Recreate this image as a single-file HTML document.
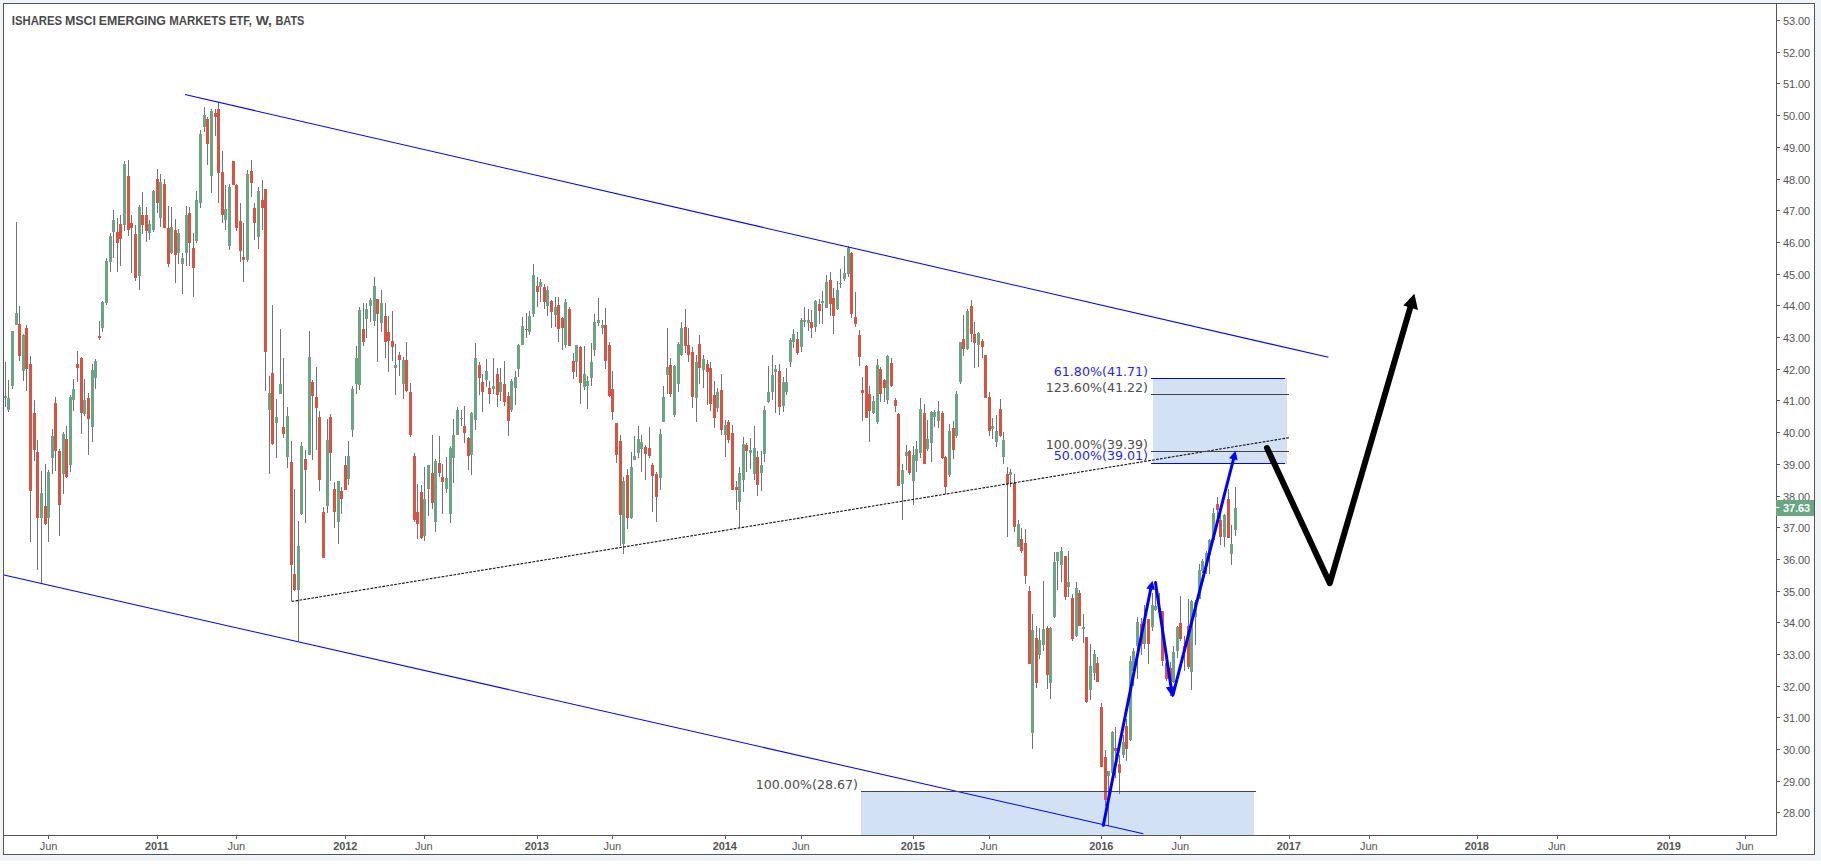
<!DOCTYPE html>
<html><head><meta charset="utf-8"><title>ISHARES MSCI EMERGING MARKETS ETF, W, BATS</title>
<style>
html,body{margin:0;padding:0;background:#fff;}
body{width:1821px;height:866px;overflow:hidden;position:relative;}
svg{position:absolute;left:0;top:0;display:block;}
.ax{font-family:"Liberation Sans",sans-serif;font-size:11px;fill:#555;letter-spacing:-0.12px;}
.axb{font-family:"Liberation Sans",sans-serif;font-size:11px;fill:#555;font-weight:bold;letter-spacing:-0.12px;}
.ttl{font-family:"Liberation Sans",sans-serif;font-size:13px;font-weight:bold;fill:#4a4a4a;}
.fib{font-family:"DejaVu Sans",sans-serif;font-size:12.65px;fill:#4d4d4d;}
.fibb{font-family:"DejaVu Sans",sans-serif;font-size:12.65px;fill:#1f1fff;}
</style></head><body>
<svg width="1821" height="866" viewBox="0 0 1821 866">
<rect x="0" y="0" width="1821" height="861" fill="#f0f4f7"/>
<rect x="3.5" y="3.5" width="1811" height="851" fill="#fff" stroke="#555" stroke-width="1"/>

<rect x="1153" y="378" width="134" height="86" fill="#d2e1f4"/>
<rect x="861" y="791" width="393" height="44" fill="#d2e1f4"/>
<g id="candles">
<path d="M5.5 362V407M8.5 380V412M12.5 331V389M16.5 222V325M19.5 306V361M23.5 334V381M26.5 325V391M30.5 356V542M34.5 400V461M37.5 440V570M41.5 471V584M45.5 464V525M48.5 470V542M52.5 429V474M55.5 397V471M59.5 449V536M63.5 432V494M66.5 426V478M70.5 395V472M73.5 379V411M77.5 351V382M81.5 357V434M84.5 379V416M88.5 393V455M92.5 364V442M95.5 359V389M99.5 321V340M102.5 301V332M106.5 258V305M110.5 233V272M113.5 210V258M117.5 218V272M120.5 215V266M124.5 161V231M128.5 160V236M131.5 215V273M135.5 225V281M139.5 205V290M142.5 192V234M146.5 207V242M149.5 220V240M153.5 190V232M157.5 169V213M160.5 174V227M164.5 179V228M168.5 206V267M171.5 207V254M175.5 219V283M178.5 229V264M182.5 253V294M186.5 206V266M189.5 207V266M193.5 233V297M196.5 191V243M200.5 130V208M204.5 107V132M207.5 117V165M211.5 109V193M215.5 109V136M218.5 102V203M222.5 151V223M225.5 185V230M229.5 184V250M233.5 161V185M236.5 184V231M240.5 203V262M243.5 223V282M247.5 170V262M251.5 160V197M254.5 203V240M258.5 187V249M262.5 180V230M265.5 189V391M269.5 376V474M272.5 305V445M276.5 399V458M280.5 329V394M283.5 358V438M287.5 407V468M291.5 441V601M294.5 489V591M298.5 521V641M301.5 442V515M305.5 450V523M309.5 331V455M312.5 380V460M316.5 367V450M319.5 411V491M323.5 507V558M327.5 419V513M330.5 414V481M334.5 482V528M338.5 481V544M341.5 487V514M345.5 456V490M348.5 441V485M352.5 386V437M356.5 346V394M359.5 307V390M363.5 303V346M366.5 303V338M370.5 298V322M374.5 277V326M377.5 299V362M381.5 290V332M385.5 303V358M388.5 316V372M392.5 311V361M395.5 344V395M399.5 352V376M403.5 357V399M406.5 342V392M410.5 383V437M414.5 453V522M417.5 484V539M421.5 485V539M424.5 467V541M428.5 465V516M432.5 435V509M435.5 459V532M439.5 436V477M442.5 464V514M446.5 457V493M450.5 446V523M453.5 419V483M457.5 407V435M461.5 410V426M464.5 406V443M468.5 437V470M471.5 412V475M475.5 343V430M479.5 362V395M482.5 374V412M486.5 359V387M489.5 381V404M493.5 358V394M497.5 368V407M500.5 368V401M504.5 361V406M508.5 392V436M511.5 379V412M515.5 371V405M518.5 344V377M522.5 317V345M526.5 313V338M529.5 311V335M533.5 264V317M537.5 277V307M540.5 279V302M544.5 284V309M547.5 286V316M551.5 300V328M555.5 297V327M558.5 297V342M562.5 317V350M565.5 299V348M569.5 307V346M573.5 353V379M576.5 345V377M580.5 346V404M584.5 346V390M587.5 376V409M591.5 343V386M594.5 314V356M598.5 298V326M602.5 320V334M605.5 308V369M609.5 342V397M612.5 371V420M616.5 423V463M620.5 435V546M623.5 477V554M627.5 469V529M631.5 452V519M634.5 436V460M638.5 426V458M641.5 435V472M645.5 445V480M649.5 427V458M652.5 463V512M656.5 472V522M660.5 429V490M663.5 386V422M667.5 328V394M670.5 358V397M674.5 365V417M678.5 342V392M681.5 322V356M685.5 309V353M688.5 328V362M692.5 347V408M696.5 355V422M699.5 335V384M703.5 355V388M707.5 360V405M710.5 362V411M714.5 381V428M717.5 388V412M721.5 374V435M725.5 420V457M728.5 420V443M732.5 425V490M736.5 481V510M739.5 467V528M743.5 437V492M746.5 443V472M750.5 438V469M754.5 426V480M757.5 451V496M761.5 451V491M764.5 406V462M768.5 366V403M772.5 355V400M775.5 365V413M779.5 364V415M783.5 377V412M786.5 368V395M790.5 338V367M793.5 329V348M797.5 332V355M801.5 318V352M804.5 307V327M808.5 309V331M811.5 310V338M815.5 300V332M819.5 299V324M822.5 291V324M826.5 275V308M830.5 272V316M833.5 288V334M837.5 281V310M840.5 269V288M844.5 256V281M848.5 246V277M851.5 252V318M855.5 292V327M859.5 330V366M862.5 377V421M866.5 365V418M869.5 386V442M873.5 396V414M877.5 359V424M880.5 367V402M884.5 379V402M887.5 355V404M891.5 358V387M895.5 398V412M898.5 413V486M902.5 464V520M906.5 445V470M909.5 450V475M913.5 446V505M916.5 441V472M920.5 398V458M924.5 404V464M927.5 420V451M931.5 411V462M934.5 410V427M938.5 401V428M942.5 411V459M945.5 456V494M949.5 424V477M953.5 421V459M956.5 391V438M960.5 342V384M963.5 315V356M967.5 309V350M971.5 300V342M974.5 322V368M978.5 332V367M982.5 339V358M985.5 355V398M989.5 392V436M992.5 418V439M996.5 415V447M1000.5 399V437M1003.5 432V464M1007.5 467V537M1010.5 469V487M1014.5 474V532M1018.5 520V547M1021.5 528V553M1025.5 529V584M1029.5 586V664M1032.5 614V749M1036.5 626V688M1039.5 628V659M1043.5 581V651M1047.5 626V689M1050.5 627V699M1054.5 552V618M1057.5 552V590M1061.5 547V582M1065.5 556V600M1068.5 551V597M1072.5 594V641M1076.5 582V637M1079.5 590V626M1083.5 614V643M1086.5 637V703M1090.5 644V700M1094.5 650V680M1097.5 657V682M1101.5 703V767M1105.5 750V806M1108.5 771V826M1112.5 731V774M1115.5 727V778M1119.5 755V794M1123.5 735V758M1126.5 719V761M1130.5 656V741M1133.5 648V686M1137.5 617V679M1141.5 618V655M1144.5 605V649M1148.5 619V664M1152.5 593V631M1155.5 590V611M1159.5 593V615M1162.5 611V666M1166.5 660V681M1170.5 662V696M1173.5 646V683M1177.5 626V658M1180.5 596V641M1184.5 636V671M1188.5 599V669M1191.5 600V690M1195.5 600V645M1199.5 564V599M1202.5 559V573M1206.5 551V574M1209.5 539V574M1213.5 508V542M1217.5 497V518M1220.5 515V545M1224.5 514V547M1228.5 489V538M1231.5 525V565M1235.5 487V536" stroke="#737373" stroke-width="1" fill="none" shape-rendering="crispEdges"/>
<path d="M4 396h3V398h-3zM7 398h3V410h-3zM11 331h3V386h-3zM15 313h3V325h-3zM22 335h3V371h-3zM40 493h3V518h-3zM47 472h3V518h-3zM51 436h3V458h-3zM62 434h3V474h-3zM69 397h3V465h-3zM72 389h3V400h-3zM83 400h3V414h-3zM91 370h3V427h-3zM94 361h3V378h-3zM101 302h3V328h-3zM105 261h3V303h-3zM109 236h3V262h-3zM112 220h3V232h-3zM123 164h3V225h-3zM138 207h3V276h-3zM148 224h3V233h-3zM152 191h3V230h-3zM159 182h3V218h-3zM170 227h3V253h-3zM177 233h3V253h-3zM181 258h3V264h-3zM185 215h3V253h-3zM195 200h3V241h-3zM199 134h3V203h-3zM203 115h3V127h-3zM210 111h3V176h-3zM224 209h3V220h-3zM228 187h3V246h-3zM246 174h3V260h-3zM257 191h3V237h-3zM268 393h3V410h-3zM275 417h3V423h-3zM279 384h3V394h-3zM286 416h3V457h-3zM297 546h3V590h-3zM300 446h3V514h-3zM308 357h3V455h-3zM326 440h3V506h-3zM337 481h3V522h-3zM347 456h3V479h-3zM351 389h3V430h-3zM355 358h3V384h-3zM358 310h3V385h-3zM365 309h3V319h-3zM369 300h3V306h-3zM373 286h3V321h-3zM380 303h3V323h-3zM394 365h3V368h-3zM402 360h3V384h-3zM423 499h3V536h-3zM427 465h3V489h-3zM434 461h3V522h-3zM445 478h3V489h-3zM449 448h3V514h-3zM452 435h3V458h-3zM456 410h3V435h-3zM460 418h3V419h-3zM470 413h3V455h-3zM474 358h3V420h-3zM485 371h3V380h-3zM492 386h3V389h-3zM499 382h3V392h-3zM510 381h3V410h-3zM514 377h3V388h-3zM517 345h3V369h-3zM521 326h3V345h-3zM528 316h3V332h-3zM532 275h3V314h-3zM539 282h3V287h-3zM546 290h3V306h-3zM554 307h3V315h-3zM564 302h3V345h-3zM575 345h3V362h-3zM583 374h3V387h-3zM586 381h3V386h-3zM590 362h3V378h-3zM593 322h3V350h-3zM597 320h3V323h-3zM601 325h3V328h-3zM622 481h3V544h-3zM630 467h3V518h-3zM633 456h3V460h-3zM637 439h3V453h-3zM640 442h3V449h-3zM659 434h3V478h-3zM662 397h3V422h-3zM666 367h3V375h-3zM673 366h3V415h-3zM677 344h3V384h-3zM680 328h3V355h-3zM695 362h3V398h-3zM702 359h3V370h-3zM716 392h3V408h-3zM724 425h3V435h-3zM738 473h3V502h-3zM742 444h3V480h-3zM749 450h3V453h-3zM753 448h3V474h-3zM760 465h3V473h-3zM763 410h3V454h-3zM767 392h3V402h-3zM771 375h3V392h-3zM774 369h3V372h-3zM782 382h3V406h-3zM785 382h3V392h-3zM789 340h3V362h-3zM792 334h3V342h-3zM800 320h3V347h-3zM803 320h3V322h-3zM807 320h3V323h-3zM814 301h3V327h-3zM821 301h3V303h-3zM825 282h3V308h-3zM836 290h3V309h-3zM839 283h3V284h-3zM843 273h3V279h-3zM847 248h3V274h-3zM872 401h3V413h-3zM876 365h3V422h-3zM886 356h3V400h-3zM901 470h3V484h-3zM905 452h3V456h-3zM912 455h3V481h-3zM915 449h3V461h-3zM919 409h3V453h-3zM926 439h3V449h-3zM930 412h3V443h-3zM933 412h3V417h-3zM937 411h3V421h-3zM948 431h3V475h-3zM955 394h3V436h-3zM959 342h3V382h-3zM966 311h3V349h-3zM977 333h3V345h-3zM991 426h3V429h-3zM995 431h3V442h-3zM1002 440h3V457h-3zM1009 472h3V475h-3zM1017 524h3V547h-3zM1031 630h3V733h-3zM1038 640h3V655h-3zM1042 629h3V645h-3zM1049 628h3V683h-3zM1053 562h3V617h-3zM1056 552h3V561h-3zM1060 551h3V565h-3zM1067 582h3V587h-3zM1075 588h3V636h-3zM1082 627h3V629h-3zM1089 666h3V690h-3zM1093 654h3V673h-3zM1107 771h3V776h-3zM1111 732h3V773h-3zM1122 742h3V755h-3zM1129 661h3V740h-3zM1132 651h3V671h-3zM1136 622h3V646h-3zM1143 622h3V644h-3zM1151 605h3V627h-3zM1154 606h3V610h-3zM1158 608h3V612h-3zM1172 652h3V682h-3zM1176 627h3V651h-3zM1190 601h3V672h-3zM1194 602h3V617h-3zM1198 570h3V599h-3zM1201 561h3V571h-3zM1205 553h3V566h-3zM1208 540h3V555h-3zM1212 513h3V540h-3zM1223 515h3V537h-3zM1230 544h3V554h-3zM1234 508h3V530h-3z" fill="#6ba583"/>
<path d="M18 324h3V356h-3zM25 328h3V369h-3zM29 364h3V491h-3zM33 413h3V450h-3zM36 452h3V518h-3zM44 506h3V524h-3zM54 403h3V451h-3zM58 451h3V505h-3zM65 439h3V477h-3zM76 364h3V368h-3zM80 358h3V413h-3zM87 398h3V419h-3zM98 336h3V338h-3zM116 232h3V243h-3zM119 224h3V239h-3zM127 176h3V230h-3zM130 223h3V228h-3zM134 234h3V278h-3zM141 215h3V225h-3zM145 215h3V231h-3zM156 179h3V203h-3zM163 184h3V228h-3zM167 228h3V264h-3zM174 230h3V255h-3zM188 213h3V243h-3zM192 248h3V268h-3zM206 119h3V144h-3zM214 113h3V117h-3zM217 109h3V173h-3zM221 172h3V215h-3zM232 161h3V185h-3zM235 185h3V228h-3zM239 221h3V251h-3zM242 257h3V260h-3zM250 171h3V183h-3zM253 208h3V223h-3zM261 200h3V208h-3zM264 189h3V352h-3zM271 373h3V444h-3zM282 427h3V434h-3zM290 462h3V565h-3zM293 574h3V590h-3zM304 459h3V470h-3zM311 382h3V396h-3zM315 397h3V408h-3zM318 417h3V480h-3zM322 512h3V558h-3zM329 417h3V453h-3zM333 489h3V512h-3zM340 491h3V499h-3zM344 465h3V490h-3zM362 329h3V342h-3zM376 299h3V314h-3zM384 316h3V342h-3zM387 332h3V341h-3zM391 341h3V347h-3zM398 355h3V360h-3zM405 360h3V391h-3zM409 392h3V435h-3zM413 456h3V520h-3zM416 512h3V524h-3zM420 492h3V538h-3zM431 473h3V503h-3zM438 463h3V473h-3zM441 477h3V482h-3zM463 426h3V433h-3zM467 438h3V456h-3zM478 365h3V378h-3zM481 382h3V392h-3zM488 388h3V394h-3zM496 374h3V395h-3zM503 384h3V402h-3zM507 396h3V421h-3zM525 329h3V330h-3zM536 286h3V292h-3zM543 287h3V302h-3zM550 301h3V312h-3zM557 305h3V329h-3zM561 318h3V328h-3zM568 309h3V346h-3zM572 361h3V372h-3zM579 347h3V383h-3zM604 325h3V361h-3zM608 345h3V396h-3zM611 389h3V412h-3zM615 423h3V455h-3zM619 441h3V515h-3zM626 475h3V518h-3zM644 447h3V454h-3zM648 448h3V456h-3zM651 465h3V476h-3zM655 474h3V497h-3zM669 365h3V394h-3zM684 327h3V346h-3zM687 345h3V355h-3zM691 352h3V397h-3zM698 344h3V368h-3zM706 364h3V372h-3zM709 368h3V404h-3zM713 395h3V418h-3zM720 390h3V430h-3zM727 422h3V440h-3zM731 433h3V490h-3zM735 487h3V490h-3zM745 445h3V451h-3zM756 457h3V485h-3zM778 371h3V407h-3zM796 339h3V353h-3zM810 322h3V328h-3zM818 304h3V311h-3zM829 280h3V304h-3zM832 298h3V316h-3zM850 253h3V314h-3zM854 317h3V324h-3zM858 335h3V357h-3zM861 390h3V393h-3zM865 366h3V418h-3zM868 394h3V411h-3zM879 369h3V394h-3zM883 380h3V388h-3zM890 363h3V386h-3zM894 400h3V406h-3zM897 414h3V486h-3zM908 451h3V473h-3zM923 413h3V464h-3zM941 413h3V458h-3zM944 457h3V487h-3zM952 428h3V450h-3zM962 339h3V349h-3zM970 306h3V334h-3zM973 334h3V343h-3zM981 341h3V347h-3zM984 355h3V398h-3zM988 397h3V431h-3zM999 409h3V436h-3zM1006 474h3V484h-3zM1013 483h3V527h-3zM1020 539h3V551h-3zM1024 543h3V576h-3zM1028 591h3V664h-3zM1035 638h3V683h-3zM1046 628h3V675h-3zM1064 556h3V597h-3zM1071 598h3V639h-3zM1078 593h3V626h-3zM1085 637h3V702h-3zM1096 663h3V682h-3zM1100 707h3V767h-3zM1104 757h3V800h-3zM1114 748h3V751h-3zM1118 764h3V773h-3zM1125 726h3V749h-3zM1140 624h3V644h-3zM1147 619h3V644h-3zM1161 611h3V661h-3zM1165 663h3V679h-3zM1169 668h3V681h-3zM1179 623h3V639h-3zM1183 646h3V650h-3zM1187 626h3V667h-3zM1216 504h3V510h-3zM1219 520h3V537h-3zM1227 499h3V538h-3z" fill="#d75442"/>
</g>
<g stroke="#0000ff" stroke-width="1.05" fill="none">
<line x1="185" y1="94.6" x2="1328.4" y2="357.3"/>
<line x1="4" y1="575.0" x2="1143.3" y2="833.7"/>
</g>
<path d="M291.6 601.5L1289 437.7" stroke="#111" stroke-width="1.1" fill="none" stroke-dasharray="2.7 1.3"/>
<g stroke-width="1" fill="none">
<line x1="1151" y1="378.5" x2="1285" y2="378.5" stroke="#0000ff"/>
<line x1="1151" y1="463.5" x2="1285" y2="463.5" stroke="#0000ff"/>
<line x1="1151" y1="394.5" x2="1289" y2="394.5" stroke="#444"/>
<line x1="1151" y1="451.5" x2="1289" y2="451.5" stroke="#444"/>
<line x1="861" y1="791.5" x2="1256" y2="791.5" stroke="#444"/>
</g>
<text class="fibb" x="1148" y="376.1" text-anchor="end">61.80%(41.71)</text>
<text class="fib" x="1148" y="392.1" text-anchor="end">123.60%(41.22)</text>
<text class="fib" x="1148" y="448.7" text-anchor="end">100.00%(39.39)</text>
<text class="fibb" x="1148" y="460.3" text-anchor="end">50.00%(39.01)</text>
<text class="fib" x="858" y="789" text-anchor="end">100.00%(28.67)</text>
<g stroke="#0000ff" stroke-width="3" fill="none" stroke-linejoin="round">
<path d="M1103.3 825.4L1150.7 589" stroke-linecap="round"/>
<path d="M1155.5 582.6L1171.3 689" stroke-linecap="round"/>
<path d="M1172.9 695.2L1233.8 458" stroke-linecap="round"/>
</g>
<g fill="#0000ff">
<path d="M1152.5 580.7L1146.2 588.6L1154.9 589.9z"/>
<path d="M1172.7 697.3L1165.8 687.2L1175.8 686.3z"/>
<path d="M1235.5 450.8L1229.1 458.2L1237.6 460.3z"/>
</g>
<path d="M1267 448L1329.8 583.2L1411 305" stroke="#000" stroke-width="6" fill="none" stroke-linecap="round" stroke-linejoin="round"/>
<path d="M1414.4 293.8L1403.3 305.6L1418 310z" fill="#000"/>
<g stroke="#555" stroke-width="1" fill="none">
<path d="M4 835.5H1776.5"/>
<path d="M1776.5 4V835.5"/>
<path d="M1776.5 812.5h3.5M1776.5 781.5h3.5M1776.5 749.5h3.5M1776.5 717.5h3.5M1776.5 686.5h3.5M1776.5 654.5h3.5M1776.5 622.5h3.5M1776.5 591.5h3.5M1776.5 559.5h3.5M1776.5 527.5h3.5M1776.5 496.5h3.5M1776.5 464.5h3.5M1776.5 432.5h3.5M1776.5 400.5h3.5M1776.5 369.5h3.5M1776.5 337.5h3.5M1776.5 305.5h3.5M1776.5 274.5h3.5M1776.5 242.5h3.5M1776.5 210.5h3.5M1776.5 179.5h3.5M1776.5 147.5h3.5M1776.5 115.5h3.5M1776.5 83.5h3.5M1776.5 52.5h3.5M1776.5 20.5h3.5M48.5 835.5v3.5M157.5 835.5v3.5M236.5 835.5v3.5M345.5 835.5v3.5M424.5 835.5v3.5M537.5 835.5v3.5M612.5 835.5v3.5M725.5 835.5v3.5M801.5 835.5v3.5M913.5 835.5v3.5M989.5 835.5v3.5M1101.5 835.5v3.5M1180.5 835.5v3.5M1289.5 835.5v3.5M1369.5 835.5v3.5M1477.5 835.5v3.5M1557.5 835.5v3.5M1669.5 835.5v3.5M1745.5 835.5v3.5"/>
</g>
<text class="ax" x="1783" y="817">28.00</text>
<text class="ax" x="1783" y="786">29.00</text>
<text class="ax" x="1783" y="754">30.00</text>
<text class="ax" x="1783" y="722">31.00</text>
<text class="ax" x="1783" y="691">32.00</text>
<text class="ax" x="1783" y="659">33.00</text>
<text class="ax" x="1783" y="627">34.00</text>
<text class="ax" x="1783" y="596">35.00</text>
<text class="ax" x="1783" y="564">36.00</text>
<text class="ax" x="1783" y="532">37.00</text>
<text class="ax" x="1783" y="501">38.00</text>
<text class="ax" x="1783" y="469">39.00</text>
<text class="ax" x="1783" y="437">40.00</text>
<text class="ax" x="1783" y="405">41.00</text>
<text class="ax" x="1783" y="374">42.00</text>
<text class="ax" x="1783" y="342">43.00</text>
<text class="ax" x="1783" y="310">44.00</text>
<text class="ax" x="1783" y="279">45.00</text>
<text class="ax" x="1783" y="247">46.00</text>
<text class="ax" x="1783" y="215">47.00</text>
<text class="ax" x="1783" y="184">48.00</text>
<text class="ax" x="1783" y="152">49.00</text>
<text class="ax" x="1783" y="120">50.00</text>
<text class="ax" x="1783" y="88">51.00</text>
<text class="ax" x="1783" y="57">52.00</text>
<text class="ax" x="1783" y="25">53.00</text>
<text class="ax" x="48.5" y="849.7" text-anchor="middle">Jun</text>
<text class="axb" x="156.8" y="849.7" text-anchor="middle">2011</text>
<text class="ax" x="236.2" y="849.7" text-anchor="middle">Jun</text>
<text class="axb" x="345.2" y="849.7" text-anchor="middle">2012</text>
<text class="ax" x="423.8" y="849.7" text-anchor="middle">Jun</text>
<text class="axb" x="536.8" y="849.7" text-anchor="middle">2013</text>
<text class="ax" x="612.2" y="849.7" text-anchor="middle">Jun</text>
<text class="axb" x="724.8" y="849.7" text-anchor="middle">2014</text>
<text class="ax" x="800.8" y="849.7" text-anchor="middle">Jun</text>
<text class="axb" x="912.8" y="849.7" text-anchor="middle">2015</text>
<text class="ax" x="988.8" y="849.7" text-anchor="middle">Jun</text>
<text class="axb" x="1101.2" y="849.7" text-anchor="middle">2016</text>
<text class="ax" x="1180.2" y="849.7" text-anchor="middle">Jun</text>
<text class="axb" x="1288.8" y="849.7" text-anchor="middle">2017</text>
<text class="ax" x="1368.8" y="849.7" text-anchor="middle">Jun</text>
<text class="axb" x="1476.8" y="849.7" text-anchor="middle">2018</text>
<text class="ax" x="1556.8" y="849.7" text-anchor="middle">Jun</text>
<text class="axb" x="1668.8" y="849.7" text-anchor="middle">2019</text>
<text class="ax" x="1744.8" y="849.7" text-anchor="middle">Jun</text>
<rect x="1776" y="500" width="38" height="16" fill="#6aa684"/>
<path d="M1776 507.5h3.5" stroke="#fff" stroke-width="1"/>
<text class="axb" x="1783" y="512" style="fill:#fff">37.63</text>
<text class="ttl" x="11.80" y="25" textLength="50.30" lengthAdjust="spacingAndGlyphs">ISHARES</text>
<text class="ttl" x="64.90" y="25" textLength="31.00" lengthAdjust="spacingAndGlyphs">MSCI</text>
<text class="ttl" x="98.80" y="25" textLength="67.10" lengthAdjust="spacingAndGlyphs">EMERGING</text>
<text class="ttl" x="169.20" y="25" textLength="56.70" lengthAdjust="spacingAndGlyphs">MARKETS</text>
<text class="ttl" x="229.20" y="25" textLength="22.70" lengthAdjust="spacingAndGlyphs">ETF,</text>
<text class="ttl" x="255.70" y="25" textLength="16.30" lengthAdjust="spacingAndGlyphs">W,</text>
<text class="ttl" x="275.40" y="25" textLength="29.00" lengthAdjust="spacingAndGlyphs">BATS</text>
</svg>
</body></html>
